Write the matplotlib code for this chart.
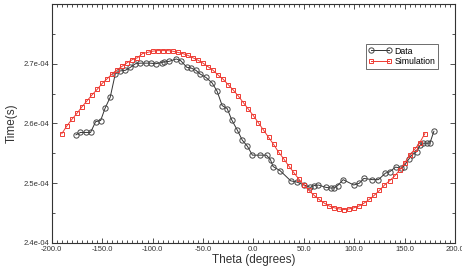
import matplotlib.pyplot as plt
from matplotlib.ticker import MultipleLocator, FixedLocator, FuncFormatter

plt.rcParams['font.family'] = ['Liberation Sans', 'DejaVu Sans']
plt.rcParams['axes.unicode_minus'] = False

# Datos medidos (grados, tiempo en unidades de 1e-4 s)
data_theta = [-176, -171.5, -166.5, -161.5, -156.5, -151.5, -147, -142, -137, -132,
              -127, -122, -117, -112, -107, -102, -97, -91, -88.5, -83.5,
              -76.5, -72, -66, -62, -57, -53, -47, -41, -36, -31,
              -26, -21.5, -16, -11, -6, -1, 7, 13, 17, 19.5,
              26.5, 37, 43, 50.5, 56.5, 60, 64.5, 72, 77, 80,
              83.5, 89, 99.5, 105, 109.5, 118, 124, 131, 135, 141,
              146, 149, 154, 157, 162, 165.5, 168.5, 172, 175, 179]
data_time = [2.581, 2.585, 2.585, 2.585, 2.603, 2.605, 2.626, 2.644, 2.683, 2.688,
             2.689, 2.694, 2.700, 2.701, 2.701, 2.701, 2.700, 2.702, 2.703, 2.704,
             2.708, 2.705, 2.694, 2.693, 2.689, 2.683, 2.677, 2.668, 2.654, 2.630,
             2.625, 2.606, 2.589, 2.572, 2.562, 2.547, 2.547, 2.547, 2.539, 2.528,
             2.521, 2.504, 2.502, 2.497, 2.493, 2.496, 2.497, 2.493, 2.492, 2.492,
             2.496, 2.506, 2.497, 2.500, 2.508, 2.506, 2.506, 2.517, 2.519, 2.527,
             2.525, 2.528, 2.540, 2.547, 2.553, 2.564, 2.567, 2.567, 2.567, 2.587]

# Simulacion, cada 5 grados de -190 a 170
sim_theta = list(range(-190, 175, 5))
sim_time = [2.583, 2.596, 2.607, 2.617, 2.628, 2.638, 2.648, 2.657, 2.667, 2.675,
            2.683, 2.690, 2.696, 2.702, 2.707, 2.710, 2.717, 2.719, 2.721, 2.722,
            2.722, 2.722, 2.721, 2.719, 2.717, 2.714, 2.710, 2.706, 2.701, 2.695,
            2.689, 2.681, 2.674, 2.665, 2.656, 2.646, 2.635, 2.624, 2.613, 2.601,
            2.589, 2.577, 2.565, 2.552, 2.541, 2.529, 2.518, 2.507, 2.497, 2.488,
            2.480, 2.473, 2.467, 2.462, 2.459, 2.457, 2.456, 2.457, 2.459, 2.462,
            2.467, 2.473, 2.480, 2.488, 2.497, 2.504, 2.512, 2.522, 2.534, 2.547,
            2.557, 2.568, 2.583]

fig = plt.figure(figsize=(4.62, 2.67), dpi=100)
ax = fig.add_axes([0.112, 0.09, 0.873, 0.895])

ax.plot(data_theta, [t * 1e-4 for t in data_time], color='#333333', lw=0.7,
        marker='o', markersize=3.8, markerfacecolor='none', markeredgecolor='#444444',
        markeredgewidth=0.7, label='Data')
ax.plot(sim_theta, [t * 1e-4 for t in sim_time], color='#ee3b33', lw=0.7,
        marker='s', markersize=3.2, markerfacecolor='none', markeredgecolor='#ee3b33',
        markeredgewidth=0.7, label='Simulation')

ax.set_xlim(-200, 200)
ax.set_ylim(2.4e-4, 2.8e-4)
ax.xaxis.set_major_locator(MultipleLocator(50))
ax.xaxis.set_minor_locator(MultipleLocator(5))
ax.xaxis.set_major_formatter(FuncFormatter(lambda v, p: f"{v:.1f}"))
ax.yaxis.set_major_locator(FixedLocator([2.4e-4, 2.5e-4, 2.6e-4, 2.7e-4]))
ax.yaxis.set_minor_locator(FixedLocator([2.45e-4, 2.55e-4, 2.65e-4, 2.75e-4]))
ax.yaxis.set_major_formatter(FuncFormatter(lambda v, p: f"{v:.1e}"))

ax.tick_params(which='both', direction='in', top=True, right=True,
               labelsize=5.5, colors='#333333', width=0.6)
ax.tick_params(which='major', length=3.5, pad=2)
ax.tick_params(which='minor', length=2)
for s in ax.spines.values():
    s.set_linewidth(0.8)
    s.set_color('#333333')

ax.set_xlabel('Theta (degrees)', fontsize=8.5, color='#333333', labelpad=1)
ax.set_ylabel('Time(s)', fontsize=8.5, color='#333333', labelpad=4)

leg = ax.legend(loc='upper right', bbox_to_anchor=(0.958, 0.833), fontsize=6.3,
                numpoints=2, handlelength=2.6, fancybox=False, framealpha=1,
                borderpad=0.3, labelspacing=0.2, handletextpad=0.4, borderaxespad=0)
leg.get_frame().set_edgecolor('#555555')
leg.get_frame().set_linewidth(0.6)

fig.savefig('out.png', dpi=100)
